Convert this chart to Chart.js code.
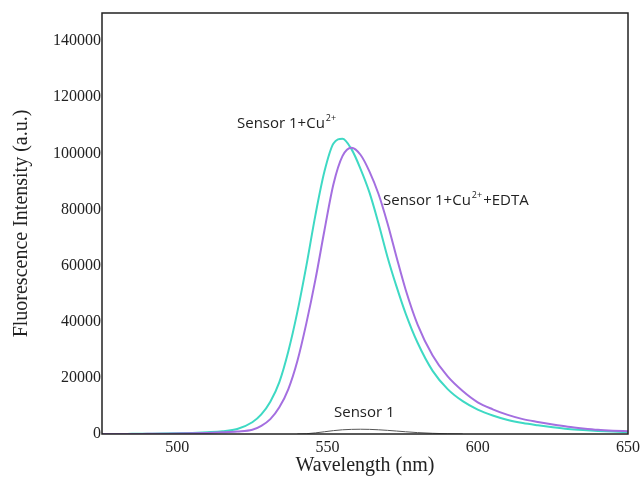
<!DOCTYPE html>
<html>
<head>
<meta charset="utf-8">
<script src="https://cdn.jsdelivr.net/npm/chart.js@4"></script>
<style>
    html, body { margin: 0; padding: 0; background: #fff; }
    #wrap { width: 641px; height: 479px; }
</style>
</head>
<body>
<div id="wrap"><canvas id="spectrumChart"></canvas></div>
<script>
// wavelength (nm)
var wavelengths = [475, 480, 485, 490, 495, 500, 505, 510, 515, 520, 525, 528, 531, 534, 537,
    540, 543, 546, 549, 552, 555, 558, 561, 564, 567, 570, 573, 576, 580, 585, 590, 595,
    600, 605, 610, 615, 620, 625, 630, 635, 640, 645, 650];

// Sensor 1 + Cu2+
var cuValues = [0, 0, 50, 100, 150, 250, 400, 650, 1000, 1800, 4200, 7000, 11500, 18500, 29500,
    43500, 60000, 78000, 93500, 103500, 105200, 101500, 94500, 86000, 75000, 63000, 52500, 43000, 32500, 22500, 16000, 11700,
    8700, 6600, 5000, 3900, 3100, 2400, 1800, 1400, 1100, 850, 700];

// Sensor 1 + Cu2+ + EDTA
var edtaValues = [0, 0, 0, 50, 100, 150, 250, 400, 600, 900, 1500, 2900, 5300, 9500, 16000,
    26000, 39500, 55000, 72500, 89000, 99000, 102000, 99500, 93500, 85500, 75000, 63000, 51500, 39000, 28000, 20500, 15300,
    11300, 8800, 6800, 5300, 4300, 3400, 2600, 2000, 1500, 1200, 1000];

// Sensor 1 alone
var sensorValues = [null, null, null, null, null, null, null, null, null, null, null, null, null, null, null,
    0, 100, 400, 800, 1200, 1500, 1650, 1700, 1650, 1500, 1300, 1050, 800, 500, 250, 80, 0,
    null, null, null, null, null, null, null, null, null, null, null];

var xTicks = [500, 550, 600, 650];
var yTicks = [0, 20000, 40000, 60000, 80000, 100000, 120000, 140000];

function points(values) {
    return wavelengths.map(function(w, i) { return { x: w, y: values[i] }; });
}

var serif = '"Liberation Serif", "Times New Roman", serif';
var sans = '"Open Sans", "Noto Sans", sans-serif';

// frame round the plot and the curve labels
var framePlugin = {
    id: 'frame',
    afterDatasetsDraw: function(chart) {
        var ctx = chart.ctx;
        var a = chart.chartArea;
        ctx.save();
        ctx.strokeStyle = '#222';
        ctx.lineWidth = 1.5;
        ctx.strokeRect(a.left, a.top, a.right - a.left, a.bottom - a.top);

        function label(text, sup, after, x, y) {
            ctx.font = '15px ' + sans;
            ctx.fillStyle = '#222';
            ctx.textBaseline = 'alphabetic';
            ctx.textAlign = 'left';
            ctx.fillText(text, x, y);
            var w = ctx.measureText(text).width;
            if (sup) {
                ctx.font = '9px ' + sans;
                ctx.fillText(sup, x + w + 1, y - 7);
                w += ctx.measureText(sup).width + 2;
            }
            if (after) {
                ctx.font = '15px ' + sans;
                ctx.fillText(after, x + w, y);
            }
        }
        label('Sensor 1+Cu', '2+', '', 237, 128);
        label('Sensor 1+Cu', '2+', '+EDTA', 383, 205);
        label('Sensor 1', '', '', 334, 417);
        ctx.restore();
    }
};

var lineStyle = { pointRadius: 0, cubicInterpolationMode: 'monotone', spanGaps: false };

new Chart(document.getElementById('spectrumChart'), {
    type: 'line',
    data: {
        datasets: [
            Object.assign({ label: 'Sensor 1', data: points(sensorValues),
                borderColor: '#555', borderWidth: 1 }, lineStyle),
            Object.assign({ label: 'Sensor 1+Cu2++EDTA', data: points(edtaValues),
                borderColor: '#a46fe0', borderWidth: 2 }, lineStyle),
            Object.assign({ label: 'Sensor 1+Cu2+', data: points(cuValues),
                borderColor: '#3ed9c4', borderWidth: 2 }, lineStyle)
        ]
    },
    options: {
        responsive: true,
        maintainAspectRatio: false,
        animation: false,
        layout: { padding: { top: 13, right: 13, left: 0, bottom: 0 } },
        plugins: { legend: { display: false }, tooltip: { enabled: false } },
        scales: {
            x: {
                type: 'linear',
                min: 475,
                max: 650,
                afterBuildTicks: function(scale) {
                    scale.ticks = xTicks.map(function(v) { return { value: v }; });
                },
                afterFit: function(scale) {
                    scale.height = 45;
                    scale.paddingLeft = 0;
                    scale.paddingRight = 0;
                },
                grid: { display: false, drawTicks: false },
                border: { display: false },
                ticks: {
                    color: '#222',
                    padding: 4,
                    maxRotation: 0,
                    callback: function(v) { return String(v); },
                    font: { family: serif, size: 16 }
                },
                title: {
                    display: true,
                    text: 'Wavelength (nm)',
                    color: '#222',
                    padding: { top: 0, bottom: 1 },
                    font: { family: serif, size: 20 }
                }
            },
            y: {
                min: 0,
                max: 150000,
                afterBuildTicks: function(scale) {
                    scale.ticks = yTicks.map(function(v) { return { value: v }; });
                },
                afterFit: function(scale) {
                    scale.width = 102;
                    scale.paddingTop = 0;
                    scale.paddingBottom = 0;
                },
                grid: { display: false, drawTicks: false },
                border: { display: false },
                ticks: {
                    color: '#222',
                    padding: 1,
                    callback: function(v) { return String(v); },
                    font: { family: serif, size: 16 }
                },
                title: {
                    display: true,
                    text: 'Fluorescence Intensity (a.u.)',
                    color: '#222',
                    padding: { top: 10, bottom: 0 },
                    font: { family: serif, size: 20 }
                }
            }
        }
    },
    plugins: [framePlugin]
});
</script>
</body>
</html>
